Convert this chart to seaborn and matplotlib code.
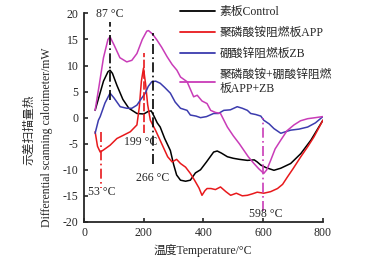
import numpy as np
import pandas as pd
import matplotlib
matplotlib.use("Agg")
import matplotlib.pyplot as plt
import seaborn as sns

# ---------------- data ----------------
series_names = ["素板Control", "聚磷酸铵阻燃板APP", "硼酸锌阻燃板ZB",
                "聚磷酸铵+硼酸锌阻燃\n板APP+ZB"]

control_T = [37, 50, 65, 80, 87, 95, 110, 130, 150, 177, 200, 215, 225, 235, 245,
             255, 270, 289, 300, 310, 323, 340, 356, 373, 390, 410, 434, 446, 460,
             480, 500, 520, 547, 570, 580, 592, 610, 636, 659, 692, 726, 760, 800]
control_v = [1.4, 4.0, 7.0, 8.8, 9.1, 8.5, 6.2, 3.5, 1.8, 0.8, 0.7, 1.2, 1.3, 0.2, -1.0,
             -1.8, -4.0, -6.3, -9.0, -11.0, -12.0, -12.2, -12.0, -10.6, -10.0, -8.5, -6.6, -6.4, -6.8,
             -7.5, -7.8, -8.0, -8.2, -8.1, -8.5, -9.1, -9.6, -10.1, -9.7, -8.8, -6.9, -4.3, -0.5]

app_T = [37, 45, 54, 65, 87, 110, 131, 155, 177, 185, 192, 199, 206, 213, 222, 240,
         260, 280, 295, 310, 323, 340, 356, 370, 385, 395, 405, 412, 425, 440, 457,
         475, 491, 510, 530, 547, 565, 580, 602, 625, 648, 665, 681, 700, 726, 750, 770, 800]
app_v = [-2.7, -5.5, -6.6, -6.2, -5.3, -4.0, -3.4, -2.7, -1.4, 2.0, 7.0, 9.5, 6.5, 2.5, -0.5, -2.5,
         -5.0, -7.5, -8.5, -8.0, -8.8, -9.5, -10.7, -12.0, -13.5, -14.9, -14.0, -13.6, -13.6, -13.8, -13.3,
         -14.2, -14.9, -14.5, -15.0, -14.9, -14.6, -14.3, -14.5, -14.2, -13.6, -12.8, -11.4, -9.8, -7.5, -5.5, -3.7, -0.5]

zb_T = [37, 48, 54, 70, 87, 100, 121, 143, 160, 177, 190, 205, 215, 227, 240, 255,
        270, 289, 305, 323, 345, 356, 375, 390, 410, 434, 450, 468, 490, 513, 530,
        547, 558, 575, 592, 602, 620, 636, 659, 675, 692, 720, 749, 775, 800]
zb_v = [-3.0, -0.5, 0.2, 2.8, 4.7, 3.8, 2.1, 1.8, 1.8, 2.4, 3.5, 4.7, 6.0, 6.9, 7.0, 6.6,
        5.8, 4.7, 3.0, 1.8, 1.4, 0.5, 0.3, 0.0, 0.2, 0.8, 0.8, 1.4, 1.5, 2.1, 1.8,
        1.4, 0.8, 0.6, 0.3, -0.5, -1.2, -2.1, -3.0, -2.7, -2.4, -2.2, -1.8, -1.0, 0.2]

mix_T = [37, 50, 65, 80, 87, 100, 120, 143, 160, 177, 195, 210, 216, 230, 244, 260,
         278, 295, 311, 323, 345, 367, 379, 395, 412, 424, 440, 457, 480, 500, 520,
         535, 550, 569, 585, 602, 612, 625, 640, 659, 680, 703, 725, 749, 775, 799]
mix_v = [1.4, 6.0, 11.5, 15.0, 15.5, 14.0, 11.5, 10.7, 11.0, 12.3, 15.0, 16.6, 16.7, 16.0, 14.9, 13.5,
         11.7, 10.2, 9.1, 7.8, 6.9, 4.0, 4.3, 3.2, 2.7, 1.4, 1.0, 0.8, -1.8, -3.5, -5.0,
         -6.25, -7.5, -8.8, -9.8, -10.7, -10.0, -8.2, -6.0, -4.3, -2.5, -1.4, -0.6, -0.2, 0.0, 0.2]

# marker (vertical reference) lines: x position, y from, y to
mark_T = [87, 200, 231, 56, 600]
mark_y0 = [3.4, -3.0, -8.8, -2.8, -18.0]
mark_y1 = [18.4, 12.4, 16.2, -13.5, 0.0]
mark_labels = ["87 °C", "199 °C", "266 °C", "53 °C", "598 °C"]
label_T = [87, 188, 229, 60, 608]
label_v = [19.8, -4.7, -11.6, -14.3, -18.4]

x_ticks = [0, 200, 400, 600, 800]
y_ticks = [-20, -15, -10, -5, 0, 5, 10, 15, 20]

# ---------------- styling ----------------
sns.set_style("ticks")
fam = ["Liberation Serif", "Noto Sans CJK SC"]
plt.rcParams["font.family"] = fam
plt.rcParams["axes.unicode_minus"] = False

colors = ["#000000", "#e8191c", "#3c3cae", "#c93cb8"]
mark_colors = ["#000000", "#e8191c", "#000000", "#e8191c", "#c93cb8"]
mark_styles = [(0, (6, 2, 1, 2)), (0, (5, 1.5)), (0, (6, 2, 1, 2)), (0, (6, 2, 1, 2)), (0, (6, 2, 1, 2))]

df = pd.concat([
    pd.DataFrame({"T": control_T, "v": control_v, "s": series_names[0]}),
    pd.DataFrame({"T": app_T, "v": app_v, "s": series_names[1]}),
    pd.DataFrame({"T": zb_T, "v": zb_v, "s": series_names[2]}),
    pd.DataFrame({"T": mix_T, "v": mix_v, "s": series_names[3]}),
], ignore_index=True)

fig = plt.figure(figsize=(3.72, 2.58), dpi=100)
ax = fig.add_axes([0.226, 0.140, 0.642, 0.808])

sns.lineplot(data=df, x="T", y="v", hue="s", palette=colors, sort=False,
             estimator=None, linewidth=1.1, ax=ax, legend=False)

for t, y0, y1, c, ls in zip(mark_T, mark_y0, mark_y1, mark_colors, mark_styles):
    ax.plot([t, t], [y0, y1], color=c, linestyle=ls, linewidth=1.2)

for t, v, s in zip(label_T, label_v, mark_labels):
    ax.text(t, v, s, ha="center", va="center", fontsize=8.5, clip_on=False)

ax.set_xlim(0, 800)
ax.set_ylim(-20, 20)
ax.set_xticks(x_ticks)
ax.set_yticks(y_ticks)
ax.tick_params(direction="in", length=3, width=1.2, labelsize=8.5, pad=4)
for sp in ["top", "right"]:
    ax.spines[sp].set_visible(False)
for sp in ["left", "bottom"]:
    ax.spines[sp].set_linewidth(1.3)

ax.set_xlabel("")
ax.set_ylabel("")
fig.text(203 / 372, 1 - 250 / 258, "温度Temperature/°C", ha="center", va="center", fontsize=8.5)
fig.text(30 / 372, 1 - 130 / 258, "示差扫描量热", rotation=90, ha="center", va="center", fontsize=8.5)
fig.text(47 / 372, 1 - 137 / 258, "Differential scanning calorimeter/mW", rotation=90,
         ha="center", va="center", fontsize=8.5)

handles = [plt.Line2D([], [], color=c, linewidth=1.3) for c in colors]
ax.legend(handles, series_names, loc="upper left", bbox_to_anchor=(180 / 372, 0.975),
          bbox_transform=fig.transFigure, frameon=False, fontsize=8.5,
          handlelength=3.0, handletextpad=0.35, labelspacing=0.75, borderpad=0, borderaxespad=0)

fig.savefig("out.png", dpi=100)
